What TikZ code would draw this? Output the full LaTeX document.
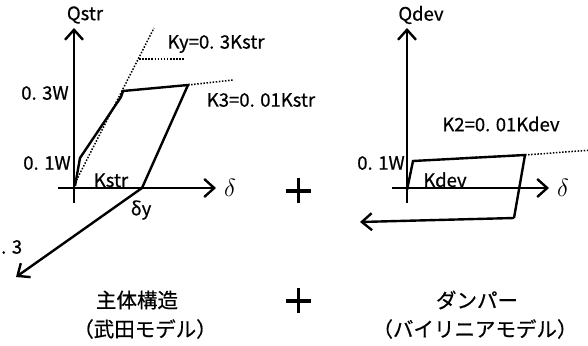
\documentclass[tikz,border=0pt]{standalone}
\usepackage{fontspec}
\setmainfont{Noto Sans CJK JP}[FakeBold=0.6]
\usetikzlibrary{arrows.meta}
\begin{document}
\begin{tikzpicture}[x=1pt,y=-1pt,
  axis/.style={line width=2.4pt,-{Straight Barb[length=10pt,width=18pt,line width=2.4pt]}},
  curve/.style={line width=2.4pt,line join=miter},
  curvearrow/.style={line width=2.4pt,-{Straight Barb[length=10pt,width=17pt,line width=2.4pt]}},
  dots/.style={line width=1.5pt,dash pattern=on 1.5pt off 1.6pt},
  lab/.style={font=\fontsize{18.5}{18.5}\selectfont,inner sep=0pt},
  jlab/.style={font=\fontsize{20.5}{20.5}\selectfont,inner sep=0pt},
  plusbar/.style={line width=3.6pt}]
\useasboundingbox (0,0) rectangle (588,345);
% ---------- left diagram ----------
\coordinate (L-top) at (74,28);
\coordinate (L-bot) at (74,203);
\coordinate (L-xl) at (58,188);
\coordinate (L-xr) at (216,188);
\draw[axis] (L-bot) -- (L-top);
\draw[axis] (L-xl) -- (L-xr);
\coordinate (L0) at (75,186);
\coordinate (L1) at (80,158);
\coordinate (L2) at (121,97);
\coordinate (L3) at (123,91);
\coordinate (L4) at (188,85);
\coordinate (L5) at (142,188);
\coordinate (L6) at (16,277);
\draw[curve] (L0) -- (L1) -- (L2) -- (L3) -- (L4) -- (L5);
\draw[curvearrow] (L5) -- (L6);
\coordinate (D0) at (75,183);
\coordinate (D1) at (154,28);
\draw[dots] (D0) -- (D1);
\coordinate (D2) at (139,59);
\coordinate (D3) at (184,59);
\draw[dots] (D2) -- (D3);
\coordinate (D4) at (233,80);
\draw[dots] (L4) -- (D4);
\node[lab] (qstr) at (85,15) {Qstr};
\node[lab] (ky) at (216,44) {Ky=0. 3Kstr};
\node[lab] (w3) at (45,93) {0. 3W};
\node[lab] (k3) at (261,100) {K3=0. 01Kstr};
\node[lab] (w1) at (47,163) {0. 1W};
\node[lab,anchor=base] (kstr) at (111,187) {Kstr};
\node[inner sep=0pt] (dl) at (230,188) {\fontsize{23}{23}\selectfont$\delta$};
\node[lab] (dy) at (141,210) {δy};
\node[lab,anchor=west] (p3) at (1,247) {. 3};
% ---------- plus signs ----------
\coordinate (P1l) at (286,191); \coordinate (P1r) at (311,191);
\coordinate (P1t) at (298.5,178); \coordinate (P1b) at (298.5,203);
\draw[plusbar] (P1l) -- (P1r); \draw[plusbar] (P1t) -- (P1b);
\coordinate (P2l) at (286,301); \coordinate (P2r) at (311,301);
\coordinate (P2t) at (298.5,288); \coordinate (P2b) at (298.5,313);
\draw[plusbar] (P2l) -- (P2r); \draw[plusbar] (P2t) -- (P2b);
% ---------- right diagram ----------
\coordinate (R-top) at (407,28);
\coordinate (R-bot) at (407,203);
\coordinate (R-xl) at (392,188);
\coordinate (R-xr) at (549,188);
\draw[axis] (R-bot) -- (R-top);
\draw[axis] (R-xl) -- (R-xr);
\coordinate (R0) at (407,190);
\coordinate (R1) at (413,161);
\coordinate (R2) at (525,155);
\coordinate (R3) at (514,218);
\coordinate (R4) at (360,222);
\draw[dots] (460,158) -- (R2);
\coordinate (R5) at (592,150);
\draw[dots] (R2) -- (R5);
\draw[curve] (R0) -- (R1) -- (R2) -- (R3);
\draw[curvearrow] (R3) -- (R4);
\node[lab] (qdev) at (421,15) {Qdev};
\node[lab] (k2) at (501,124) {K2=0. 01Kdev};
\node[lab] (w1r) at (381,163) {0. 1W};
\node[lab,anchor=base] (kdev) at (445,187) {Kdev};
\node[inner sep=0pt] (dr) at (563,188) {\fontsize{23}{23}\selectfont$\delta$};
% ---------- captions ----------
\node[jlab] (c1) at (137,300) {主体構造};
\node[jlab] (c2) at (145,329) {（武田モデル）};
\node[jlab] (c3) at (477,300) {ダンパー};
\node[jlab] (c4) at (475,329) {（バイリニアモデル）};
\end{tikzpicture}
\end{document}
